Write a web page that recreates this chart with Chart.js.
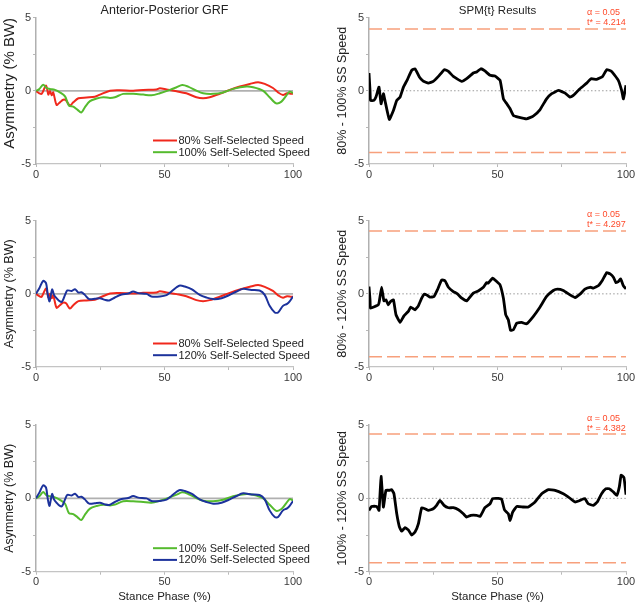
<!DOCTYPE html>
<html>
<head>
<meta charset="utf-8">
<script src="https://cdn.jsdelivr.net/npm/chart.js@4.4.1/dist/chart.umd.min.js"></script>
<style>
  html, body { margin: 0; padding: 0; background: #ffffff; }
  #wrap { position: relative; width: 638px; height: 606px; overflow: hidden; }
  canvas { position: absolute; }
</style>
</head>
<body>
<div id="wrap"></div>
<script>
// ---------------- DATA ----------------
const xTickLabels = [0, 50, 100];
const yTickLabels = [-5, 0, 5];
const alphaLevel = 0.05;

// Asymmetry (% BW) – 80% self-selected speed
const phase80 = [0,1.3,2.2,3.9,4.8,5.4,6.1,6.7,8,9.3,10.6,11.7,13.2,14.5,16.5,19.7,22.9,24.9,28.8,32.6,37.8,41.7,46.9,48.2,50.8,54.7,58.5,62.4,65,67.6,71.5,75.4,79.3,83.2,86.4,89,92.2,94.2,96.1,97.7,99.4,100];
const asym80  = [0,-0.16,-0.2,0.37,-0.25,0,-0.3,-0.1,-0.95,-0.78,-0.6,-0.65,-1.0,-0.78,-0.5,-0.45,-0.4,-0.25,0.02,0.05,0.02,0.07,0.1,0.18,0.1,-0.02,-0.16,-0.43,-0.5,-0.43,-0.2,0.07,0.3,0.48,0.6,0.48,0.2,-0.1,-0.27,-0.16,-0.2,-0.18];

// Asymmetry (% BW) – 100% self-selected speed
const phase100 = [0,1.3,2.8,4.1,5.4,7.4,9.3,11.3,12.8,14.5,16.1,17.6,19,21,23.6,26.2,28.8,30.7,33.9,37.8,41.7,44.9,48.2,52.1,54.7,56.9,59.2,62.4,65,68.9,72.8,76.7,81.9,84.5,88.3,90.9,93.5,95.5,97.4,98.7,100];
const asym100  = [0,0.14,0.43,0.2,0.14,0.07,-0.1,-0.37,-1.0,-1.07,-1.28,-1.48,-1.12,-0.7,-0.52,-0.43,-0.48,-0.43,-0.2,-0.2,-0.25,-0.3,-0.16,0.07,0.25,0.41,0.3,0.02,-0.16,-0.2,-0.1,0.14,0.3,0.25,0.02,-0.43,-0.85,-0.73,-0.32,-0.05,-0.14];

// Asymmetry (% BW) – 120% self-selected speed
const phase120 = [0,1.3,2.8,3.9,4.5,5.2,5.8,6.3,7,8,9.3,10.2,11.3,12.2,13.9,15.2,16.5,17.7,19,20.7,22.9,24.9,26.8,28.5,30.7,33.3,35.9,37.8,39.8,43,44.9,48.2,50.8,52.7,54.7,56,57.9,60.5,63.7,66.3,68.9,72.2,75.4,78,80.6,83.8,87,89,90.9,92.9,94.2,96.1,97.7,98.7,100];
const asym120  = [0,0.39,0.89,0.73,0.05,-0.52,-0.07,0.32,-0.07,-0.3,-0.52,-0.52,-0.07,0.23,0.2,0.32,0.09,0.11,-0.07,-0.36,-0.34,-0.3,-0.41,-0.45,-0.25,-0.05,0.02,0.16,0.05,0,-0.18,-0.18,-0.09,0.16,0.45,0.57,0.5,0.32,-0.07,-0.25,-0.36,-0.3,-0.07,0.16,0.34,0.27,0.23,-0.07,-0.82,-1.27,-1.27,-0.82,-0.68,-0.52,-0.18];

// SPM{t}: 80% - 100% SS speed
const spmPhaseA = [0,0.4,0.6,1.9,2.7,3.9,4.7,5.6,6.2,7.9,9.5,10.8,12.1,13.4,14.9,16.6,17.9,19.6,21.1,23.1,25,27,29.3,30.9,32.8,36.1,38,40.6,41.9,43.5,45.1,47.1,49,51,52.3,53.6,54.9,56.2,58.1,61.3,63.9,66.5,69.1,71.1,73.7,76.3,78.2,79.5,82.1,84.7,86.4,88.6,90.9,92.5,94.4,97,98.3,99,100];
const spmTA     = [1.21,0.02,-0.66,-0.66,-0.43,0.25,-0.89,-0.2,-0.66,-1.96,-1.35,-0.66,-0.43,0.25,0.75,1.39,1.5,0.94,0.66,0.52,0.64,0.98,1.44,1.32,0.98,0.64,0.82,1.21,1.28,1.5,1.35,1.05,1.0,0.71,-0.55,-0.89,-1.23,-1.69,-1.8,-1.92,-1.73,-1.3,-0.55,-0.2,0.02,-0.16,-0.43,-0.32,0.14,0.52,0.82,0.78,0.98,1.44,1.32,0.71,0.02,-0.55,0.37];
const tCritA = 4.214;

// SPM{t}: 80% - 120% SS speed
const spmPhaseB = [0,0.4,0.6,2.3,3.6,4,4.9,5.8,6.6,7.5,8.4,9.5,10.5,12.1,13.6,15.3,16.2,17.9,19.2,20.5,21.5,22.4,23.7,25.3,26.6,28.3,29.6,30.9,32.8,34.4,36.1,38,40.6,42.5,44.5,45.8,46.4,48.1,49.7,51,52.3,53.2,54.2,55.1,56.2,57.5,59.4,61.3,63.9,66.5,69.1,71.7,73.3,75.6,78.2,80.2,82.1,84,86,87.3,89.2,90.9,92.5,93.8,95.1,96.1,97,97.9,99,100];
const spmTB     = [0.5,-0.41,-0.98,-0.86,-0.75,-0.52,0.45,-0.48,-0.41,-0.75,-0.52,-0.41,-1.43,-1.95,-1.5,-1.2,-0.91,-1.09,-0.82,-0.3,-0.02,-0.07,-0.23,-0.18,0.27,0.95,0.89,0.45,0.16,0,-0.3,-0.48,0.05,0.2,0.45,0.77,0.73,1.07,0.84,0.61,-0.3,-1.43,-1.77,-2.5,-2.45,-2.0,-1.95,-2.05,-1.55,-0.91,-0.18,0.23,0.32,0.23,-0.07,-0.25,-0.02,0.32,0.45,0.39,0.55,0.95,1.45,1.36,1.14,0.77,0.84,1.02,0.55,0.34];
const tCritB = 4.297;

// SPM{t}: 100% - 120% SS speed
const spmPhaseC = [0,1,3,3.9,4.7,5.6,6.6,7.9,8.8,9.7,10.8,11.8,12.7,14,15.3,16.6,17.9,19.2,20.5,21.8,23.1,25,26.3,27.6,29.2,30.9,32.8,34.8,36.7,38,39.6,41.9,43.2,45.1,47.1,48.1,50.3,51.6,52.7,54.2,54.9,55.9,57.5,60.1,62,64.6,67.2,69.8,72.4,75.6,77.6,80.2,82.1,84,85.3,87.3,88.8,90.5,92.2,93.5,95.1,96.4,97.4,98.1,99.2,100];
const spmTC     = [-0.82,-0.55,-0.55,-0.82,1.5,-0.59,0.55,0.55,0.59,0.32,-1.05,-1.92,-2.24,-2.0,-2.15,-2.5,-2.3,-1.74,-0.64,-0.71,-0.82,-0.71,-0.48,-0.14,-0.48,-0.64,-0.64,-0.78,-1.05,-1.28,-1.16,-1.16,-1.23,-0.64,-0.37,-0.02,0,-0.05,-0.78,-1.05,-1.5,-0.94,-0.55,-0.59,-0.59,-0.25,0.32,0.59,0.55,0.32,0.09,-0.25,-0.14,-0.02,-0.37,-0.48,-0.25,0.32,0.66,0.66,0.43,0.2,0.78,1.58,1.42,0.25];
const tCritC = 4.382;

// ---------------- STYLE ----------------
const FONT = '"Liberation Sans", Arial, Helvetica, sans-serif';
const RED = '#f0281c', GREEN = '#55bb2e', BLUE = '#1c329c', BLACK = '#000000';
const THRESH = '#f7a07c', CRITTXT = '#ff4a2a';

function pts(xs, ys) { return xs.map((x, i) => ({ x: x, y: ys[i] })); }

const insideLegend = {
  id: 'insideLegend',
  afterDatasetsDraw(chart, args, opts) {
    if (!opts || !opts.show) return;
    const { ctx, chartArea } = chart;
    const items = chart.data.datasets.filter(d => d.inLegend);
    ctx.save();
    ctx.font = '11px ' + FONT;
    ctx.textBaseline = 'middle';
    ctx.textAlign = 'left';
    items.forEach((d, i) => {
      const y = chartArea.bottom - 23.5 + i * 11.7;
      const x0 = chartArea.left + 117;
      ctx.strokeStyle = d.borderColor;
      ctx.lineWidth = 2;
      ctx.beginPath(); ctx.moveTo(x0, y); ctx.lineTo(x0 + 24, y); ctx.stroke();
      ctx.fillStyle = '#222';
      ctx.fillText(d.label, x0 + 25.5, y + 0.5);
    });
    ctx.restore();
  }
};

const critLabel = {
  id: 'critLabel',
  afterDatasetsDraw(chart, args, opts) {
    if (!opts || opts.t == null) return;
    const { ctx, chartArea } = chart;
    const y = chart.scales.y.getPixelForValue(opts.t);
    const x = chartArea.right - 39;
    ctx.save();
    ctx.font = '9px ' + FONT;
    ctx.fillStyle = CRITTXT;
    ctx.textAlign = 'left';
    ctx.textBaseline = 'middle';
    ctx.fillText('\u03B1 = ' + alphaLevel.toFixed(2), x, y - 16);
    ctx.fillText('t* = ' + opts.t.toFixed(3), x, y - 6);
    ctx.restore();
  }
};

const wrap = document.getElementById('wrap');

function makePanel(p) {
  const c = document.createElement('canvas');
  c.width = p.w; c.height = p.h;
  c.style.left = p.left + 'px'; c.style.top = p.top + 'px';
  c.style.width = p.w + 'px'; c.style.height = p.h + 'px';
  wrap.appendChild(c);

  const datasets = [];
  p.series.forEach((s, i) => {
    datasets.push({
      label: s.label, inLegend: !p.spm, data: s.data,
      borderColor: s.color, borderWidth: p.spm ? 2.8 : 2,
      pointRadius: 0, fill: false, tension: p.spm ? 0.12 : 0.3,
      order: 5 - i
    });
  });
  // zero reference line
  datasets.push({
    label: 'zero', inLegend: false, data: [{ x: 0, y: 0 }, { x: 100, y: 0 }],
    borderColor: p.spm ? '#9a9a9a' : '#b0b0b0', borderWidth: p.spm ? 1 : 1.8,
    borderDash: p.spm ? [1.5, 2.2] : [], pointRadius: 0, fill: false, order: 20
  });
  if (p.spm) {
    [p.tCrit, -p.tCrit].forEach(t => datasets.push({
      label: 'crit', inLegend: false, data: [{ x: 0, y: t }, { x: 100, y: t }],
      borderColor: THRESH, borderWidth: 1.5, borderDash: [13, 5],
      pointRadius: 0, fill: false, order: 15
    }));
  }

  const tickFont = { family: FONT, size: 11 };
  new Chart(c, {
    type: 'line',
    data: { datasets: datasets },
    options: {
      responsive: false, animation: false, devicePixelRatio: 1,
      layout: { padding: { top: p.padTop, right: p.padRight, bottom: 0, left: 0 } },
      plugins: {
        legend: { display: false },
        tooltip: { enabled: false },
        title: {
          display: !!p.title, text: p.title || '', fullSize: false,
          font: { family: FONT, size: p.titleSize || 12, weight: 'normal' },
          color: '#222', padding: { top: p.titlePadTop || 3, bottom: 0.1 }
        },
        insideLegend: { show: !p.spm },
        critLabel: p.spm ? { t: p.tCrit } : {}
      },
      scales: {
        x: {
          type: 'linear', min: 0, max: 100,
          afterFit: s => { s.height = p.xH; },
          ticks: {
            stepSize: 25, autoSkip: false, maxRotation: 0, padding: 1,
            callback: v => xTickLabels.includes(v) ? String(v) : '',
            font: tickFont, color: '#3a3a3a'
          },
          grid: { drawOnChartArea: false, drawTicks: true, tickLength: 3, color: '#b8b8b8' },
          border: { display: true, color: '#c4c4c4', width: 1.2 },
          title: {
            display: !!p.xTitle, text: p.xTitle || '',
            font: { family: FONT, size: 11.5 }, color: '#222',
            padding: { top: 0, bottom: 2 }
          }
        },
        y: {
          min: -5, max: 5,
          afterFit: s => { s.width = p.yW; },
          ticks: {
            stepSize: 2.5, autoSkip: false, padding: 2,
            callback: v => yTickLabels.includes(v) ? String(v) : '',
            font: tickFont, color: '#3a3a3a'
          },
          grid: { drawOnChartArea: false, drawTicks: true, tickLength: 3, color: '#b8b8b8' },
          border: { display: true, color: '#b0b0b0', width: 1.5 },
          title: {
            display: true, text: p.yTitle, align: p.yAlign || 'center',
            font: { family: FONT, size: p.yTitleSize }, color: '#222',
            padding: { top: p.yTitlePad, bottom: 0 }
          }
        }
      }
    },
    plugins: [insideLegend, critLabel]
  });
}

const s80 = { label: '80% Self-Selected Speed', color: RED, data: pts(phase80, asym80) };
const s100 = { label: '100% Self-Selected Speed', color: GREEN, data: pts(phase100, asym100) };
const s120 = { label: '120% Self-Selected Speed', color: BLUE, data: pts(phase120, asym120) };

// Left column
makePanel({ left: 0, top: 0, w: 319, h: 200, padTop: 0, padRight: 26, xH: 36, yW: 36,
  title: 'Anterior-Posterior GRF', titleSize: 12.5, titlePadTop: 2.8,
  yTitle: 'Asymmetry (% BW)', yTitleSize: 15, yTitlePad: 0.5, yAlign: 'end',
  series: [s80, s100] });
makePanel({ left: 0, top: 200, w: 319, h: 200, padTop: 20.7, padRight: 26, xH: 33, yW: 36,
  yTitle: 'Asymmetry (% BW)', yTitleSize: 12.5, yTitlePad: 2,
  series: [s80, s120] });
makePanel({ left: 0, top: 400, w: 319, h: 206, padTop: 25, padRight: 26, xH: 34.3, yW: 36,
  xTitle: 'Stance Phase (%)',
  yTitle: 'Asymmetry (% BW)', yTitleSize: 12.5, yTitlePad: 2,
  series: [s100, s120] });

// Right column
makePanel({ left: 319, top: 0, w: 319, h: 200, padTop: 0, padRight: 12, xH: 36, yW: 50, spm: true, tCrit: tCritA,
  title: 'SPM{t} Results', titleSize: 11.5, titlePadTop: 3.6,
  yTitle: '80% - 100% SS Speed', yTitleSize: 12.5, yTitlePad: 16.3,
  series: [{ label: 'SPM{t}', color: BLACK, data: pts(spmPhaseA, spmTA) }] });
makePanel({ left: 319, top: 200, w: 319, h: 200, padTop: 20.7, padRight: 12, xH: 33, yW: 50, spm: true, tCrit: tCritB,
  yTitle: '80% - 120% SS Speed', yTitleSize: 12.5, yTitlePad: 16.3,
  series: [{ label: 'SPM{t}', color: BLACK, data: pts(spmPhaseB, spmTB) }] });
makePanel({ left: 319, top: 400, w: 319, h: 206, padTop: 25, padRight: 12, xH: 34.3, yW: 50, spm: true, tCrit: tCritC,
  xTitle: 'Stance Phase (%)',
  yTitle: '100% - 120% SS Speed', yTitleSize: 12.5, yTitlePad: 16.3,
  series: [{ label: 'SPM{t}', color: BLACK, data: pts(spmPhaseC, spmTC) }] });
</script>
</body>
</html>
